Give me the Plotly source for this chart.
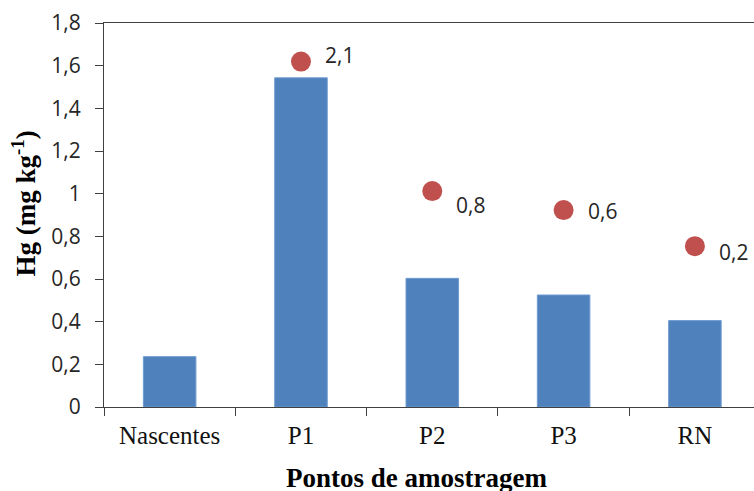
import plotly.graph_objects as go

# Sampling points and mercury concentrations
pontos = ["Nascentes", "P1", "P2", "P3", "RN"]
hg_barras = [0.236, 1.543, 0.603, 0.525, 0.405]

# Point markers (only for P1, P2, P3, RN) and their text labels
pontos_marcador = ["P1", "P2", "P3", "RN"]
hg_marcador = [1.619, 1.012, 0.923, 0.754]
rotulos_marcador = ["2,1", "0,8", "0,6", "0,2"]

# Vertical pixel offsets for the marker labels
desloc_y = [7, -14, -1, -6]

y_ticks = [0, 0.2, 0.4, 0.6, 0.8, 1.0, 1.2, 1.4, 1.6, 1.8]
y_tick_text = ["0", "0,2", "0,4", "0,6", "0,8", "1", "1,2", "1,4", "1,6", "1,8"]

AXIS_COLOR = "#404040"
SANS = "Open Sans, Lato, sans-serif"
SERIF = "Liberation Serif, Times New Roman, serif"

fig = go.Figure()

fig.add_trace(go.Bar(
    x=pontos,
    y=hg_barras,
    width=0.4,
    marker=dict(color="#4F81BD", line=dict(color="#6E9AD0", width=1)),
    showlegend=False,
))

fig.add_trace(go.Scatter(
    x=pontos_marcador,
    y=hg_marcador,
    mode="markers",
    marker=dict(color="#C0504D", size=20),
    showlegend=False,
))

for p, v, txt, dy in zip(pontos_marcador, hg_marcador, rotulos_marcador, desloc_y):
    fig.add_annotation(
        x=p, y=v, xref="x", yref="y",
        text=txt, showarrow=False,
        xanchor="left", yanchor="middle",
        xshift=22, yshift=dy,
        font=dict(family=SANS, size=21, color="#262626"),
    )

# Axis titles
fig.add_annotation(
    x=0.48, y=-0.186, xref="paper", yref="paper",
    text="<b>Pontos de amostragem</b>", showarrow=False,
    xanchor="center", yanchor="middle",
    font=dict(family=SERIF, size=27, color="#000000"),
)
fig.add_annotation(
    x=-0.123, y=0.53, xref="paper", yref="paper",
    text="<b>Hg (mg kg<sup>-1</sup>)</b>", showarrow=False,
    textangle=-90, xanchor="center", yanchor="middle",
    font=dict(family=SERIF, size=27, color="#000000"),
)

fig.update_layout(
    width=754, height=491,
    margin=dict(l=104, r=0, t=23, b=84),
    paper_bgcolor="white", plot_bgcolor="white",
    bargap=0.6,
    xaxis=dict(
        type="category",
        range=[-0.5, 4.45],
        showline=True, linecolor=AXIS_COLOR, linewidth=1.3,
        mirror=True,
        ticks="outside", tickson="boundaries", ticklen=8,
        tickcolor=AXIS_COLOR, tickwidth=1.3,
        showgrid=False, zeroline=False,
        ticklabelstandoff=6,
        tickfont=dict(family=SERIF, size=25, color="#111111"),
    ),
    yaxis=dict(
        range=[0, 1.8],
        tickvals=y_ticks, ticktext=y_tick_text,
        showline=True, linecolor=AXIS_COLOR, linewidth=1.3,
        ticks="outside", ticklen=8, tickcolor=AXIS_COLOR, tickwidth=1.3,
        showgrid=False, zeroline=False,
        ticklabelstandoff=10,
        tickfont=dict(family=SANS, size=21, color="#262626"),
    ),
)

fig.write_html("out.html")
